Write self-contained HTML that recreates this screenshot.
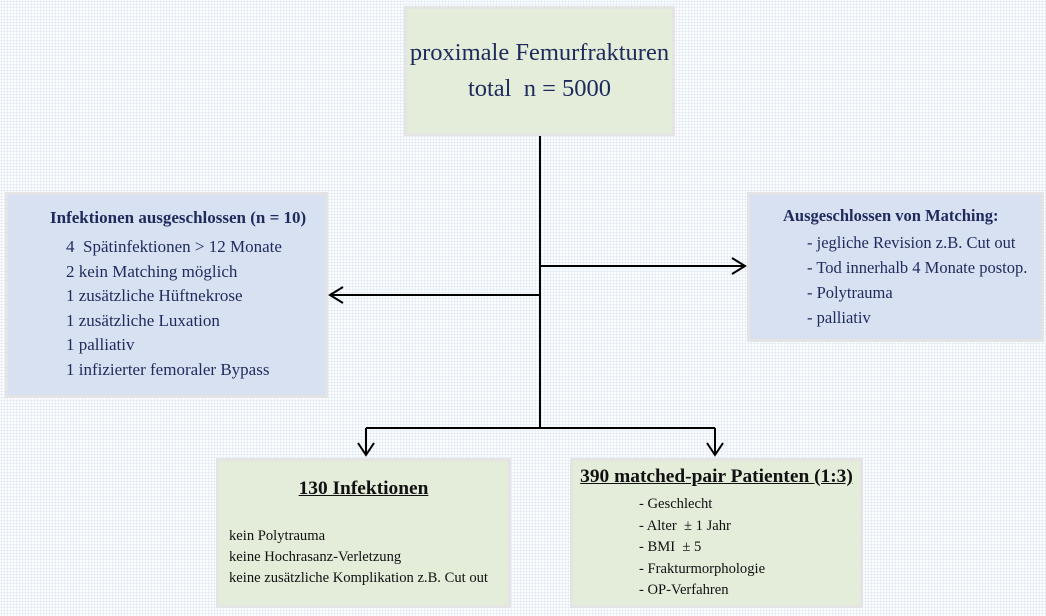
<!DOCTYPE html>
<html><head><meta charset="utf-8"><style>
body{margin:0;width:1046px;height:616px;overflow:hidden;position:relative;font-family:"Liberation Serif",serif;
background-color:#fbfcfe;background-image:radial-gradient(#dfe7f2 0.8px,transparent 1px);background-size:3px 3px;}
.b{position:absolute;box-sizing:border-box;border:3px solid #e4e4e4;}
.g{background:#e3edda;}
.bl{background:#d8e1f2;}
.t{position:absolute;white-space:nowrap;color:#1f2a5c;}
.k{color:#111;}
svg{position:absolute;left:0;top:0}
</style></head><body>
<div class="b g" style="left:404px;top:6px;width:271px;height:130px"></div>
<div class="t" style="left:404px;width:271px;text-align:center;top:35px;font-size:24.5px;line-height:36px">proximale Femurfrakturen<br>total&nbsp; n = 5000</div>

<div class="b bl" style="left:5px;top:192px;width:323px;height:206px"></div>
<div class="t" style="left:50px;top:208px;font-size:17px;font-weight:bold">Infektionen ausgeschlossen (n = 10)</div>
<div class="t" style="left:66px;top:235px;font-size:17px;line-height:24.6px">4&nbsp; Spätinfektionen &gt; 12 Monate<br>2 kein Matching möglich<br>1 zusätzliche Hüftnekrose<br>1 zusätzliche Luxation<br>1 palliativ<br>1 infizierter femoraler Bypass</div>

<div class="b bl" style="left:747px;top:192px;width:297px;height:150px"></div>
<div class="t" style="left:783px;top:206px;font-size:16.5px;font-weight:bold">Ausgeschlossen von Matching:</div>
<div class="t" style="left:807px;top:230px;font-size:16.5px;line-height:25px">- jegliche Revision z.B. Cut out<br>- Tod innerhalb 4 Monate postop.<br>- Polytrauma<br>- palliativ</div>

<div class="b g" style="left:216px;top:458px;width:295px;height:150px"></div>
<div class="t k" style="left:216px;width:295px;text-align:center;top:478px;font-size:19.4px;font-weight:bold;text-decoration:underline">130 Infektionen</div>
<div class="t k" style="left:229px;top:526px;font-size:14.6px;line-height:21px">kein Polytrauma<br>keine Hochrasanz-Verletzung<br>keine zusätzliche Komplikation z.B. Cut out</div>

<div class="b g" style="left:570px;top:458px;width:293px;height:150px"></div>
<div class="t k" style="left:570px;width:293px;text-align:center;top:466px;font-size:19.4px;font-weight:bold;text-decoration:underline">390 matched-pair Patienten (1:3)</div>
<div class="t k" style="left:639px;top:494px;font-size:14.6px;line-height:21.5px">- Geschlecht<br>- Alter&nbsp; ± 1 Jahr<br>- BMI&nbsp; ± 5<br>- Frakturmorphologie<br>- OP-Verfahren</div>

<svg width="1046" height="616" fill="none" stroke="#000" stroke-width="2">
<path d="M540 136V428M540 266H744M540 295H330M366 428H715M366 428V455M715 428V455"/>
<path d="M732 258L745 266L732 274M343 287L330 295L343 303M358 443L366 455L374 443M707 443L715 455L723 443"/>
</svg>
</body></html>
